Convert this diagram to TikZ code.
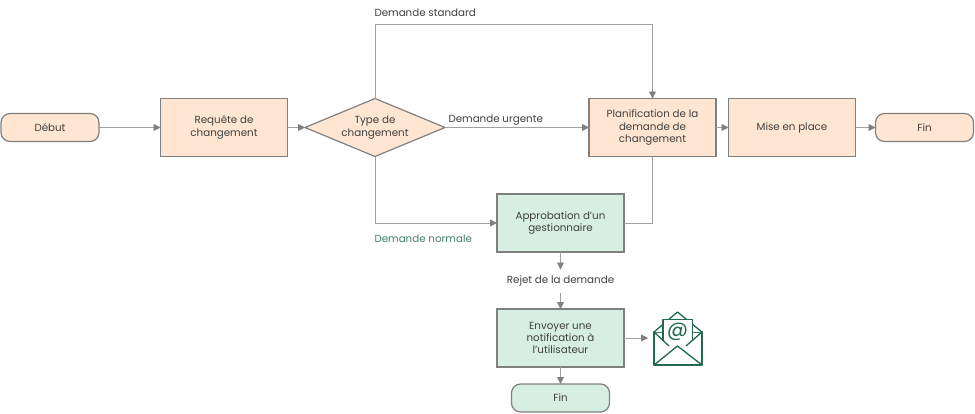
\documentclass[tikz,border=0pt]{standalone}
\usepackage{fontspec}
\setmainfont{Poppins}
\usepackage{xcolor}
\usetikzlibrary{
	positioning,
	shapes.geometric,
	arrows.meta,
	calc
}
\definecolor{peach}{HTML}{FFE6D3}
\definecolor{mint}{HTML}{D6EFE2}
\definecolor{edge}{HTML}{808080}
\definecolor{wire}{HTML}{A0A0A0}
\definecolor{ink}{HTML}{404040}
\definecolor{leaf}{HTML}{1F6B4A}

\begin{document}
\begin{tikzpicture}
		[
		,x=1pt, y=-1pt
		,node distance = 0pt
		,every node/.style = {
			,font=\fontsize{10.3}{12.4}\selectfont
			,text=ink
			,outer sep=0pt}
		,square/.style = {
			,draw=edge
			,fill=peach
			,minimum height=58pt
			,minimum width=127pt
			,inner sep=0pt
			,align=center
			,line width=1.2pt}
		,green_square/.style = {
			,square
			,fill=mint}
		,terminal/.style = {
			,square
			,rounded corners=9pt
			,minimum height=28pt
			,minimum width=98pt}
		,decision/.style = {
			,square
			,diamond
			,aspect=2.37
			,minimum width=140pt}
		,text_label/.style = {
			,inner sep=0pt}
		,flow/.style = {
			,draw=wire
			,line width=0.9pt
			,-{Triangle[length=7pt, width=7pt, fill=edge, color=edge]}}
		,flow_plain/.style = {
			,draw=wire
			,line width=0.9pt}
		,icon_line/.style = {
			,draw=leaf
			,line width=1.3pt
			,line join=round}
		]
		\useasboundingbox (0,0) rectangle (975,413);

		% Main row
		\node [terminal] at (50,127.5)            (debut)    {Début};
		\node [square, right=61.5pt of debut]     (requete)  {Requête de\\changement};
		\node [decision, right=17.5pt of requete] (type)     {Type de\\changement};
		\node [square, right=144pt of type]       (plan)     {Planification de la\\demande de\\changement};
		\node [square, right=12.5pt of plan]      (miseplace) {Mise en place};
		\node [terminal, right=20pt of miseplace] (fin)      {Fin};

		% Rejected branch
		\node [green_square, below=37.5pt of plan, xshift=-92pt] (appro) {Approbation d’un\\gestionnaire};
		\node [green_square, below=57pt of appro]  (envoi) {Envoyer une\\notification à\\l’utilisateur};
		\node [terminal, fill=mint, below=17pt of envoi] (fin2) {Fin};

		% Labels
		\node [text_label, anchor=west] at (374.5,12.5) (lstandard) {Demande standard};
		\node [text_label, anchor=west] at (448.5,120.5) (lurgente) {Demande urgente};
		\node [text_label, anchor=west, text=leaf!85!white] at (374.5,238.5) (lnormale) {Demande normale};
		\node [text_label, fill=white, minimum height=23pt] at (560.5,281) (rejet) {Rejet de la demande};

		% Mail icon
		\coordinate (iconend) at (648,338);
		\draw [icon_line] (654,332) rectangle (702,365);
		\draw [icon_line, fill=white] (654,332) -- (677.5,312) -- (702,332);
		\draw [icon_line, fill=white] (663,339.5) -- (663,319.5) -- (692.5,319.5) -- (692.5,339.5);
		\draw [icon_line] (654,332) -- (669,346);
		\draw [icon_line] (702,332) -- (686,346);
		\draw [icon_line] (654,365) -- (677.5,346) -- (702,365);
		\node [inner sep=0pt, text=leaf, font=\fontsize{21}{21}\selectfont] at (677.5,332) (at) {@};

		% Connectors
		\draw [flow] (debut) -- (requete);
		\draw [flow] (requete) -- (type);
		\draw [flow] (type.east) -- (plan);
		\draw [flow] (plan) -- (miseplace);
		\draw [flow] (miseplace) -- (fin);
		\draw [flow] (type.north) |- ($(plan.north)+(0,-74)$) -- (plan.north);
		\draw [flow] (type.south) |- (appro.west);
		\draw [flow_plain] (appro.east) -| (plan.south);
		\draw [flow] (appro.south) -- (rejet.north -| appro.south);
		\draw [flow] (rejet.south -| envoi.north) -- (envoi.north);
		\draw [flow] (envoi.east) -- (iconend);
		\draw [flow] (envoi) -- (fin2);
	\end{tikzpicture}
\end{document}
